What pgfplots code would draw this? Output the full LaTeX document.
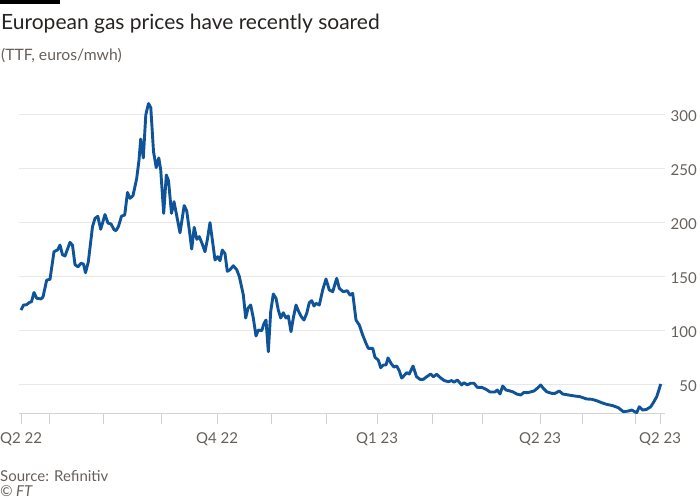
\documentclass[border=0pt]{standalone}
\usepackage{pgfplots}
\pgfplotsset{compat=1.18}
\usepackage{fontspec}
\setmainfont{Lato}
\definecolor{ftblue}{RGB}{15,84,153}
\definecolor{ftgray}{RGB}{102,96,92}
\definecolor{fttext}{RGB}{38,36,34}
\definecolor{gridc}{RGB}{232,232,232}
\definecolor{axc}{RGB}{210,210,210}
\begin{document}
\begin{tikzpicture}
\path[use as bounding box] (0pt,0pt) rectangle (700pt,-500pt);
\fill[black] (0pt,0pt) rectangle (60pt,-4pt);
\node[anchor=base west, inner sep=0pt, text=fttext, font=\fontsize{21}{25}\selectfont] at (1pt,-30pt) {European gas prices have recently soared};
\node[anchor=base west, inner sep=0pt, text=ftgray, font=\fontsize{15.7}{18}\selectfont] at (1pt,-60.5pt) {(TTF, euros/mwh)};
\node[anchor=base west, inner sep=0pt, text=ftgray, font=\fontsize{15}{16}\selectfont] at (0pt,-481pt) {Source: Refinitiv};
\node[anchor=base west, inner sep=0pt, text=ftgray, font=\fontsize{15}{16}\selectfont\itshape] at (0pt,-496.5pt) {\textcopyright{} FT};
\begin{axis}[
  at={(19pt,-413.3pt)}, anchor=south west,
  scale only axis, width=646pt, height=313.7pt,
  xmin=19, xmax=665, ymin=23.1, ymax=314.1,
  axis x line*=bottom, axis y line*=right,
  y axis line style={draw=none},
  x axis line style={axc, line width=1pt, -},
  ytick={50,100,150,200,250,300},
  ytick style={draw=none},
  yticklabel pos=right,
  ymajorgrids, grid style={gridc, line width=1pt},
  xtick={21,49,103,161,217,271,326,377,432,482,540,582,635,660},
  xticklabels={Q2 22,,,,Q4 22,,,Q1 23,,,Q2 23,,,Q2 23},
  xtick style={axc, line width=1pt},
  tick align=outside, major tick length=11pt,
  /pgf/number format/assume math mode=true,
  yticklabel style={font=\fontsize{15}{17}\selectfont, text=ftgray, anchor=east, inner sep=0pt, xshift=21pt, yshift=-1.5pt},
  xticklabel style={font=\fontsize{15}{17}\selectfont, text=ftgray, anchor=north, inner sep=0pt, yshift=-8pt},
  clip=false,
]
\addplot[ftblue, line width=2.9pt, line join=round] coordinates {
(21,118.9) (23.5,123.5) (26.5,123.8) (29.5,126) (31.5,126.6) (34,135.2) (36.7,129.8) (41,129.2) (43,131)
(46.7,146.7) (50,147.4) (54,173) (57.5,174.6) (60,179.2) (62.5,170.2) (65,169) (70,181.7) (72.5,179)
(75,161) (78,159) (81,162.3) (83.5,161.5) (85.5,153.5) (88.3,163.5) (92.5,196.2) (95,204) (97.8,205.8)
(100.7,193.8) (105,207.5) (108,199.5) (111,198.8) (114,193.5) (116,192.5) (118.5,196.5) (121.5,206)
(124.7,207) (127.5,228) (130,222.5) (133,225) (136.7,241) (139,258) (140.7,277.5) (143.3,260)
(145.8,300) (148.5,310.5) (150.8,306.5) (153.5,266) (156.2,251) (158.8,260) (160.7,249) (163.7,208.6)
(166.3,244.2) (168.5,239) (171.5,208.6) (174,219.4) (176.7,206.5) (180,190.5) (184.2,215.8) (186.7,211)
(189.2,194) (191.7,175.5) (194.2,195.6) (196.8,184.5) (199.3,187) (202,180.8) (205,173) (207.5,185)
(210,200) (212.5,183) (215,165.3) (217.7,168.4) (220,164.6) (222.3,174.6) (225,171.2) (227.3,154.8)
(230,156.3) (233.3,160) (236.7,156.3) (239.3,150.1) (243.3,133) (245.7,111.5) (248,120.6) (250.7,123.6)
(253.3,111.5) (256,94.8) (258.3,100.4) (261.7,99.7) (264,106.5) (266,109.6) (268.3,80.2) (270.7,117.4)
(273.3,133.8) (276,129.8) (278.3,118.9) (280.7,111.5) (283.3,116.4) (286,111.5) (288.3,113.4) (291,98.8)
(293.3,111.5) (296,123.6) (298.7,117.4) (301.3,112.7) (304,109.6) (306.7,115.9) (309.3,125.7) (311.7,127.6)
(314,122.6) (316,125.1) (319.3,123.6) (322.7,137.5) (326,147.7) (329.3,137.5) (332.7,135.9) (336.7,148.3)
(339.3,139) (343.3,135.9) (347.3,136.8) (350,132.8) (352.7,134.4) (356,109.6) (359.3,105) (362.7,95.7)
(366,88) (368.3,83.4) (372.7,83.4) (375,75) (378.3,72.5) (380.7,65.4) (383.3,67.9) (386,67.9) (388,74.5)
(391.3,69) (394,66) (396.7,67) (399.3,62.5) (401.7,55.8) (404,58) (406.7,60.8) (409.3,59.6) (413,67)
(416.5,57.1) (420,54.6) (423.3,54.6) (426.7,57) (430.7,59.6) (433.3,57) (436.7,59.3) (440,56.4) (444,53.6)
(448.3,52.4) (451.7,53.5) (454,51.9) (457.3,54) (461.7,49.4) (464,51.5) (467.3,49.4) (470.7,51) (474,51)
(477.3,47.2) (481.7,47.2) (486,45.4) (490,42.9) (495,42.9) (497.3,44.7) (500,41) (502.7,48.4) (506,44.7)
(509.3,44) (512.7,43.1) (516.7,41) (520.7,40.1) (524,42.5) (527.3,42.2) (530,42.8) (534,43.8) (537.3,46.3)
(540.7,49.4) (543.3,46.3) (546.7,43.1) (551.7,41.6) (555,41.6) (559.3,43.8) (562.7,41) (568.3,40.1)
(575,39.1) (580,38.5) (586.7,36.4) (591.7,36.1) (596.7,34.8) (601.7,32.9) (606.7,31.4) (612.7,30.2)
(618.3,28.3) (623.3,24.6) (628.3,25.2) (631.7,26.1) (636.7,23.7) (639.3,29.2) (642.7,26.1) (646.7,26.8)
(650.7,29.2) (653.3,32.9) (656.7,38.5) (658.7,44.1) (660.7,50.3)
};
\end{axis}
\end{tikzpicture}
\end{document}
